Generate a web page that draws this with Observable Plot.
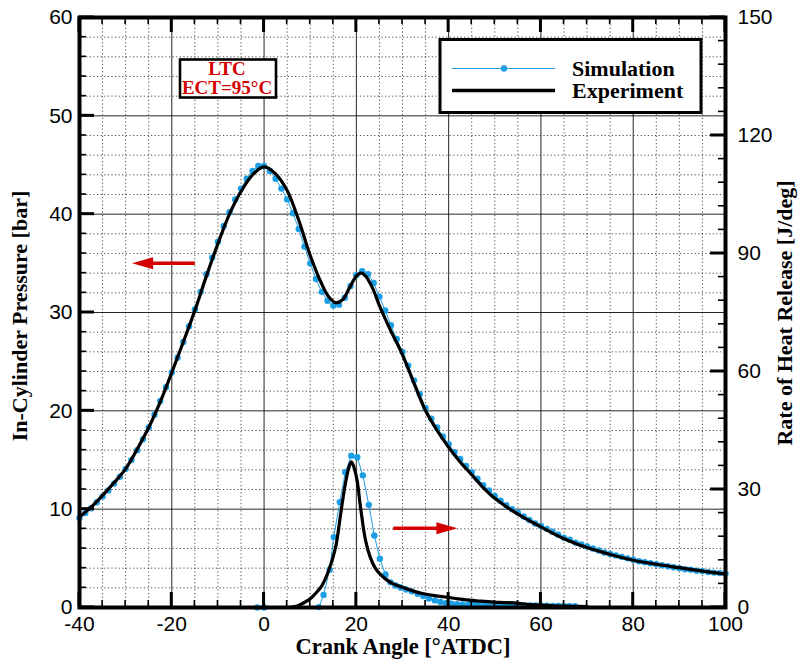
<!DOCTYPE html>
<html><head><meta charset="utf-8">
<script src="https://cdn.jsdelivr.net/npm/d3@7"></script>
<script src="https://cdn.jsdelivr.net/npm/@observablehq/plot@0.6"></script>
<style>
html,body{margin:0;padding:0;background:#fff;}
#chart{width:799px;height:660px;}
</style></head>
<body><div id="chart"></div>
<script>
// ---------- data ----------
// Experiment: in-cylinder pressure [bar]
const expAngle = [-40,-37.5,-35,-32.5,-30,-27.5,-25,-22.5,-20,-17.5,-15,-12.5,-10,-7.5,-5,-2.5,0,2.5,5,7.5,10,12.5,14,15.5,17,18.5,20,21,22,23.5,25,27.5,30,32.5,35,37.5,40,42.5,45,47.5,50,55,60,65,70,75,80,85,90,95,100];
const expPressure = [9.2,10.2,11.4,12.7,14.1,16.1,18.3,20.9,23.9,27.0,30.2,33.7,37.0,40.0,42.3,44.0,44.8,44.1,42.4,39.4,35.8,32.9,31.6,31.0,31.3,32.5,33.7,34.0,33.7,32.5,30.7,28.1,25.7,22.8,20.0,18.0,16.3,14.8,13.5,12.2,11.1,9.5,8.2,7.0,6.1,5.4,4.8,4.4,4.05,3.7,3.4];

// Simulation: in-cylinder pressure [bar], one value every 1.25 °CA from -40 to 100
const simAngleStart = -40, simAngleStep = 1.25;
const simPressure = [
  9.1, 9.6, 10.1, 10.7, 11.3, 11.9, 12.6, 13.3,
  14.1, 15.0, 16.0, 17.1, 18.3, 19.6, 21.0, 22.4,
  23.9, 25.4, 27.0, 28.6, 30.3, 32.1, 33.9, 35.6,
  37.2, 38.8, 40.2, 41.5, 42.6, 43.6, 44.4, 44.9,
  44.9, 44.4, 43.6, 42.6, 41.5, 40.1, 38.5, 36.7,
  35.0, 33.4, 32.1, 31.2, 30.7, 30.8, 31.5, 32.7,
  33.8, 34.2, 33.9, 33.0, 31.6, 30.2, 28.7, 27.3,
  26.0, 24.6, 23.1, 21.7, 20.3, 19.2, 18.3, 17.4,
  16.6, 15.8, 15.1, 14.4, 13.75, 13.1, 12.45, 11.9,
  11.35, 10.85, 10.4, 10.0, 9.65, 9.25, 8.9, 8.55,
  8.3, 8.0, 7.7, 7.4, 7.1, 6.9, 6.6, 6.4,
  6.2, 6.0, 5.8, 5.6, 5.45, 5.3, 5.15, 5.0,
  4.85, 4.7, 4.6, 4.5, 4.4, 4.3, 4.2, 4.1,
  4.0, 3.9, 3.85, 3.75, 3.7, 3.6, 3.55, 3.5,
  3.45
];

// Experiment: rate of heat release [J/deg]
const expHrrAngle = [5,7,8.6,10,11.1,12.5,14,15.5,16.6,17.6,18.3,18.9,19.5,20.2,20.9,22,23,24,25.2,26.7,28,29.6,31,32.5,34.6,37,39.7,42,44,47,49.8,52,54.9,57,60,63,67,70];
const expHrr = [0,0.3,1.2,2.2,3.5,5.5,9.4,15.3,23.8,31.4,35.3,37.0,35.6,32.0,25.5,17.0,12.8,10.2,8.4,6.9,6.0,5.3,4.7,4.1,3.5,3.0,2.6,2.2,1.95,1.6,1.35,1.25,1.1,0.8,0.6,0.4,0.3,0.2];

// Simulation: rate of heat release [J/deg]
const simHrrAngle = [-1.5,0,11.9,12.9,14.2,15.1,16.4,17.6,18.9,20.2,21.4,22.7,23.9,25.1,26.3,27.4,28.5,29.6,30.8,32.0,33.3,34.5,35.7,37.0,38.2,39.4,40.6,41.8,43.0,44.3,45.5,46.7,48.0,49.2,50.4,51.6,52.8,54.0,55.3,56.5,57.7,58.9,60.1,61.3,62.6,63.8,65.0,66.2,67.4];
const simHrr = [0,0,0.1,3.2,9.6,17.9,26.8,34.4,38.6,38.2,33.6,26.1,18.3,12.4,8.4,6.4,5.6,5.1,4.6,4.1,3.5,2.9,2.3,1.8,1.4,1.1,0.95,0.85,0.8,0.75,0.7,0.7,0.65,0.65,0.6,0.6,0.6,0.55,0.55,0.5,0.5,0.5,0.45,0.45,0.4,0.4,0.4,0.35,0.35];

// Axes
const xDomain = [-40, 100];
const yLeftDomain = [0, 60];
const yRightDomain = [0, 150];
const xMajorTicks = [-40,-20,0,20,40,60,80,100];
const xMinorStep = 5;
const yLeftTicks = [0,10,20,30,40,50,60];
const yLeftMinorStep = 2;
const yRightTicks = [0,30,60,90,120,150];
const yRightMinorStep = 6;

// Texts
const seriesNames = ["Simulation", "Experiment"];
const noteLines = ["LTC", "ECT=95°C"];
const xTitle = "Crank Angle [°ATDC]";
const yLeftTitle = "In-Cylinder Pressure [bar]";
const yRightTitle = "Rate of Heat Release [J/deg]";

// Red arrows (data coordinates, left-axis units)
const arrowX1 = [-14.9, 28.1];
const arrowX2 = [-28.5, 42.0];
const arrowY = [34.95, 8.0];

// ---------- build ----------
const BLUE = "#1c9fe4";
const RED = "#d40000";
const k = yLeftDomain[1] / yRightDomain[1]; // right-axis -> left-axis units

const simAngle = simPressure.map((_, i) => simAngleStart + i * simAngleStep);
const simP = simPressure.map((p, i) => ({a: simAngle[i], v: p}));
const expP = expPressure.map((p, i) => ({a: expAngle[i], v: p}));
const simH = simHrr.map((h, i) => ({a: simHrrAngle[i], v: h * k}));
const expH = expHrr.map((h, i) => ({a: expHrrAngle[i], v: h * k}));

const xMinor = d3.range(xDomain[0], xDomain[1] + 0.001, xMinorStep).filter(v => !xMajorTicks.includes(v));
const yMinor = d3.range(yLeftDomain[0], yLeftDomain[1] + 0.001, yLeftMinorStep).filter(v => !yLeftTicks.includes(v));
const yRightMinor = d3.range(yRightDomain[0], yRightDomain[1] + 0.001, yRightMinorStep).filter(v => !yRightTicks.includes(v));

const plot = Plot.plot({
  width: 799,
  height: 660,
  marginLeft: 79,
  marginRight: 74,
  marginTop: 17,
  marginBottom: 53,
  x: {domain: xDomain, label: null},
  y: {domain: yLeftDomain, label: null},
  style: {fontFamily: "'Liberation Sans', Arial, sans-serif", fontSize: "21px", background: "white", color: "black", overflow: "visible"},
  marks: [
    Plot.gridX(xMinor, {stroke: "black", strokeOpacity: 0.7, strokeDasharray: "1.2,2.4"}),
    Plot.gridY(yMinor, {stroke: "black", strokeOpacity: 0.7, strokeDasharray: "1.2,2.4"}),
    Plot.gridX(xMajorTicks, {stroke: "black", strokeOpacity: 0.85, strokeWidth: 1}),
    Plot.gridY(yLeftTicks, {stroke: "black", strokeOpacity: 0.85, strokeWidth: 1}),
    Plot.line(simP, {x: "a", y: "v", stroke: BLUE, strokeWidth: 1}),
    Plot.dot(simP, {x: "a", y: "v", r: 3.2, fill: BLUE, stroke: "none"}),
    Plot.line(simH, {x: "a", y: "v", stroke: BLUE, strokeWidth: 1}),
    Plot.dot(simH, {x: "a", y: "v", r: 3.2, fill: BLUE, stroke: "none"}),
    Plot.line(expP, {x: "a", y: "v", stroke: "black", strokeWidth: 3.2, curve: "catmull-rom"}),
    Plot.line(expH, {x: "a", y: "v", stroke: "black", strokeWidth: 3.2, curve: "catmull-rom"}),
    Plot.axisX(xMajorTicks, {anchor: "bottom", tickSize: 0, tickPadding: 9, tickFormat: d => String(d), label: null}),
    Plot.axisY(yLeftTicks, {anchor: "left", tickSize: 0, tickPadding: 7, tickFormat: d => String(d), label: null}),
    Plot.axisY(yRightTicks.map(v => v * k), {anchor: "right", tickSize: 0, tickPadding: 12, tickFormat: d => String(Math.round(d / k)), label: null}),
    Plot.frame({stroke: "black", strokeWidth: 4})
  ]
});

document.getElementById("chart").appendChild(plot);

// ---------- decorations using the plot's scales ----------
const sx = plot.scale("x"), sy = plot.scale("y");
const X = v => sx.apply(v), Y = v => sy.apply(v);
const L = X(xDomain[0]), R = X(xDomain[1]), T = Y(yLeftDomain[1]), B = Y(yLeftDomain[0]);
const svg = d3.select(plot);

// inward ticks
const tg = svg.append("g").attr("stroke", "black").attr("fill", "none");
function tick(x1, y1, x2, y2, w) {
  tg.append("line").attr("x1", x1).attr("y1", y1).attr("x2", x2).attr("y2", y2).attr("stroke-width", w);
}
xMajorTicks.forEach(v => { tick(X(v), B, X(v), B - 15, 3); tick(X(v), T, X(v), T + 15, 3); });
xMinor.forEach(v => { tick(X(v), B, X(v), B - 7, 1.6); tick(X(v), T, X(v), T + 7, 1.6); });
yLeftTicks.forEach(v => tick(L, Y(v), L + 15, Y(v), 3));
yMinor.forEach(v => tick(L, Y(v), L + 7, Y(v), 1.6));
yRightTicks.forEach(v => tick(R, Y(v * k), R - 15, Y(v * k), 3));
yRightMinor.forEach(v => tick(R, Y(v * k), R - 7, Y(v * k), 1.6));

// red arrows
const ag = svg.append("g");
arrowX1.forEach((x1, i) => {
  const a = X(x1), b = X(arrowX2[i]), y = Y(arrowY[i]);
  const dir = Math.sign(b - a), head = 21, hw = 6;
  ag.append("line").attr("x1", a).attr("y1", y).attr("x2", b - dir * head + dir * 2).attr("y2", y)
    .attr("stroke", RED).attr("stroke-width", 3.5);
  ag.append("path").attr("d", `M${b},${y}L${b - dir * head},${y - hw}L${b - dir * head},${y + hw}Z`).attr("fill", RED);
});

const serif = "'Liberation Serif', 'Times New Roman', serif";

// LTC note box
const ng = svg.append("g");
ng.append("rect").attr("x", 180).attr("y", 59.5).attr("width", 96).attr("height", 38)
  .attr("fill", "white").attr("stroke", "black").attr("stroke-width", 2.6);
noteLines.forEach((t, i) => {
  ng.append("text").attr("x", 227).attr("y", 75 + i * 19).attr("text-anchor", "middle")
    .attr("font-family", serif).attr("font-weight", "bold").attr("font-size", 19).attr("fill", RED).text(t);
});

// legend
const lg = svg.append("g");
lg.append("rect").attr("x", 440).attr("y", 39.5).attr("width", 261).attr("height", 73)
  .attr("fill", "white").attr("stroke", "black").attr("stroke-width", 3);
lg.append("line").attr("x1", 452).attr("x2", 555).attr("y1", 68.5).attr("y2", 68.5).attr("stroke", BLUE).attr("stroke-width", 1);
lg.append("circle").attr("cx", 504).attr("cy", 68.5).attr("r", 3.2).attr("fill", BLUE);
lg.append("line").attr("x1", 452).attr("x2", 555).attr("y1", 90.5).attr("y2", 90.5).attr("stroke", "black").attr("stroke-width", 3.5);
seriesNames.forEach((t, i) => {
  lg.append("text").attr("x", 572).attr("y", 75.5 + i * 22).attr("text-anchor", "start")
    .attr("font-family", serif).attr("font-weight", "bold")
    .attr("font-size", 22).attr("fill", "black").text(t);
});

// axis titles
svg.append("text").attr("x", 403).attr("y", 654).attr("text-anchor", "middle")
  .attr("font-family", serif).attr("font-weight", "bold").attr("font-size", 22.5).attr("fill", "black").text(xTitle);
svg.append("text").attr("transform", "translate(27,316) rotate(-90)").attr("text-anchor", "middle")
  .attr("font-family", serif).attr("font-weight", "bold").attr("font-size", 22).attr("fill", "black").text(yLeftTitle);
svg.append("text").attr("transform", "translate(792,313) rotate(-90)").attr("text-anchor", "middle")
  .attr("font-family", serif).attr("font-weight", "bold").attr("font-size", 22).attr("fill", "black").text(yRightTitle);
</script>
</body></html>
